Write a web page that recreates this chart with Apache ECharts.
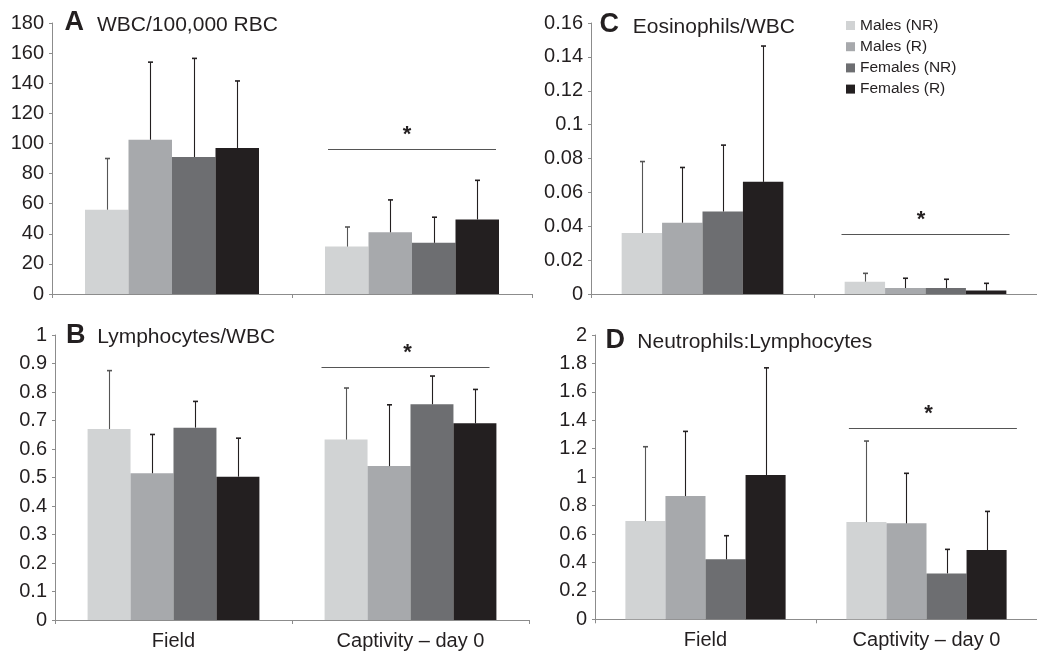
<!DOCTYPE html>
<html><head><meta charset="utf-8">
<script src="https://cdn.jsdelivr.net/npm/echarts@6/dist/echarts.min.js"></script>
<style>html,body{margin:0;padding:0;background:#fff}#c{width:1037px;height:652px}</style>
</head><body><div id="c"></div>
<script>
// ---------- data ----------
const categories = ['Field', 'Captivity – day 0'];
const groups = ['Males (NR)', 'Males (R)', 'Females (NR)', 'Females (R)'];

// rows = groups (Males NR, Males R, Females NR, Females R), columns = categories
// Panel A: WBC/100,000 RBC
const wbcMean = [[56, 31.5], [102.5, 41], [91, 34], [97, 49.5]];
const wbcErr  = [[34, 13], [51.5, 21.5], [65.5, 17], [44.5, 26]];
const wbcSig = 96;
const wbcTicks = {max: 180, interval: 20};

// Panel B: Lymphocytes/WBC
const lymMean = [[0.670, 0.633], [0.515, 0.540], [0.675, 0.757], [0.503, 0.690]];
const lymErr  = [[0.205, 0.181], [0.136, 0.215], [0.092, 0.099], [0.135, 0.119]];
const lymSig = 0.887;
const lymTicks = {max: 1, interval: 0.1};

// Panel C: Eosinophils/WBC
const eosMean = [[0.036, 0.0073], [0.0421, 0.0035], [0.0487, 0.0035], [0.0662, 0.002]];
const eosErr  = [[0.0422, 0.0049], [0.0326, 0.0058], [0.0392, 0.0052], [0.0802, 0.0043]];
const eosSig = 0.0353;
const eosTicks = {max: 0.16, interval: 0.02};

// Panel D: Neutrophils:Lymphocytes
const nlMean = [[0.691, 0.684], [0.867, 0.675], [0.422, 0.323], [1.015, 0.487]];
const nlErr  = [[0.523, 0.570], [0.455, 0.352], [0.166, 0.169], [0.754, 0.272]];
const nlSig = 1.345;
const nlTicks = {max: 2, interval: 0.2};

// ---------- styles / layout ----------
const FONT = '"Liberation Sans", Arial, Helvetica, sans-serif';
const INK = '#231f20';
const AXIS = '#8c8c8c';
const colors = ['#d1d3d4', '#a7a9ac', '#6d6e71', '#231f20'];
const errColors = ['#555555', '#231f20', '#231f20', '#231f20'];
const CAT_GAP = 0.275;

const panels = [
  {letter: 'A', title: 'WBC/100,000 RBC', mean: wbcMean, err: wbcErr, sig: wbcSig, ticks: wbcTicks,
   grid: {left: 52, top: 23, width: 480, height: 271}, labels: false,
   letterPos: [64.5, 9.5], titlePos: [97, 14.7], sigDx: 0, starDx: -5},
  {letter: 'B', title: 'Lymphocytes/WBC', mean: lymMean, err: lymErr, sig: lymSig, ticks: lymTicks,
   grid: {left: 55, top: 335, width: 474, height: 285}, labels: true,
   letterPos: [66, 322.5], titlePos: [97.3, 327.2], sigDx: -5, starDx: -3},
  {letter: 'C', title: 'Eosinophils/WBC', mean: eosMean, err: eosErr, sig: eosSig, ticks: eosTicks,
   grid: {left: 591, top: 23, width: 458, height: 271}, labels: false,
   letterPos: [599.5, 11.5], titlePos: [632.7, 17.2], sigDx: 0, starDx: -4.5},
  {letter: 'D', title: 'Neutrophils:Lymphocytes', mean: nlMean, err: nlErr, sig: nlSig, ticks: nlTicks,
   grid: {left: 595, top: 335, width: 443.4, height: 284.3}, labels: true,
   letterPos: [605.5, 327.5], titlePos: [637.3, 332.2], sigDx: 6.4, starDx: 2}
];

const grid = [], xAxis = [], yAxis = [], series = [], title = [];

function errRender(i) {
  return function (params, api) {
    const j = api.value(0), m = api.value(1), e = api.value(2);
    const catW = api.size([1, 0])[0];
    const bw = catW * (1 - CAT_GAP) / 4;
    const p0 = api.coord([j, m]);
    const p1 = api.coord([j, m + e]);
    const x = Math.round(p0[0] + (i - 1.5) * bw) + 0.5;
    const st = {stroke: errColors[i], lineWidth: 1.1};
    return {type: 'group', children: [
      {type: 'line', shape: {x1: x, y1: p0[1], x2: x, y2: p1[1]}, style: st},
      {type: 'line', shape: {x1: x - 2.5, y1: p1[1], x2: x + 2.5, y2: p1[1]}, style: {stroke: errColors[i], lineWidth: 1.6}}
    ]};
  };
}

function sigRender(dx, sdx) {
  return function (params, api) {
    const p = api.coord([api.value(0), api.value(1)]);
    const y = Math.round(p[1]) + 0.5;
    const cx = p[0] + dx;
    return {type: 'group', children: [
      {type: 'line', shape: {x1: cx - 84, y1: y, x2: cx + 84, y2: y}, style: {stroke: '#555', lineWidth: 1}},
      {type: 'text', x: p[0] + sdx, y: y - 14.5, style: {text: '*', font: 'bold 22px ' + FONT, fill: INK, align: 'center', verticalAlign: 'middle'}}
    ]};
  };
}

panels.forEach((pn, g) => {
  grid.push(Object.assign({containLabel: false}, pn.grid));
  xAxis.push({
    type: 'category', gridIndex: g, data: categories, boundaryGap: true,
    axisLine: {show: true, lineStyle: {color: AXIS, width: 1}},
    axisTick: {show: true, length: 4, lineStyle: {color: AXIS}},
    axisLabel: {show: pn.labels, fontSize: 20, color: INK, fontFamily: FONT, margin: 11},
    splitLine: {show: false}
  });
  yAxis.push({
    type: 'value', gridIndex: g, min: 0, max: pn.ticks.max, interval: pn.ticks.interval,
    axisLine: {show: true, lineStyle: {color: AXIS, width: 1}},
    axisTick: {show: true, length: 3, lineStyle: {color: AXIS}},
    axisLabel: {fontSize: 20, color: INK, fontFamily: FONT, margin: 8},
    splitLine: {show: false}
  });
  groups.forEach((name, i) => {
    series.push({
      type: 'bar', name: name, xAxisIndex: g, yAxisIndex: g,
      data: pn.mean[i], barGap: '0%', barCategoryGap: (CAT_GAP * 100) + '%',
      itemStyle: {color: colors[i]}, z: 2
    });
  });
  groups.forEach((name, i) => {
    series.push({
      type: 'custom', name: 'err' + g + '_' + i, xAxisIndex: g, yAxisIndex: g, z: 3,
      renderItem: errRender(i),
      data: categories.map((c, j) => [j, pn.mean[i][j], pn.err[i][j]])
    });
  });
  series.push({
    type: 'custom', name: 'sig' + g, xAxisIndex: g, yAxisIndex: g, z: 3,
    renderItem: sigRender(pn.sigDx, pn.starDx),
    data: [[1, pn.sig]]
  });
  title.push({text: pn.letter, left: pn.letterPos[0], top: pn.letterPos[1], padding: 0,
    textStyle: {fontSize: 27, fontWeight: 900, color: INK, fontFamily: FONT}});
  title.push({text: pn.title, left: pn.titlePos[0], top: pn.titlePos[1], padding: 0,
    textStyle: {fontSize: 21, fontWeight: 'normal', color: INK, fontFamily: FONT}});
});

const chart = echarts.init(document.getElementById('c'), null, {renderer: 'canvas'});
chart.setOption({
  animation: false,
  backgroundColor: '#fff',
  textStyle: {fontFamily: FONT},
  title: title,
  legend: {
    data: groups, orient: 'vertical', left: 846, top: 17.5, padding: 0,
    itemWidth: 9, itemHeight: 9, itemGap: 5.2, icon: 'rect',
    textStyle: {fontSize: 15.5, color: INK, fontFamily: FONT}
  },
  grid: grid, xAxis: xAxis, yAxis: yAxis, series: series
});
</script></body></html>
